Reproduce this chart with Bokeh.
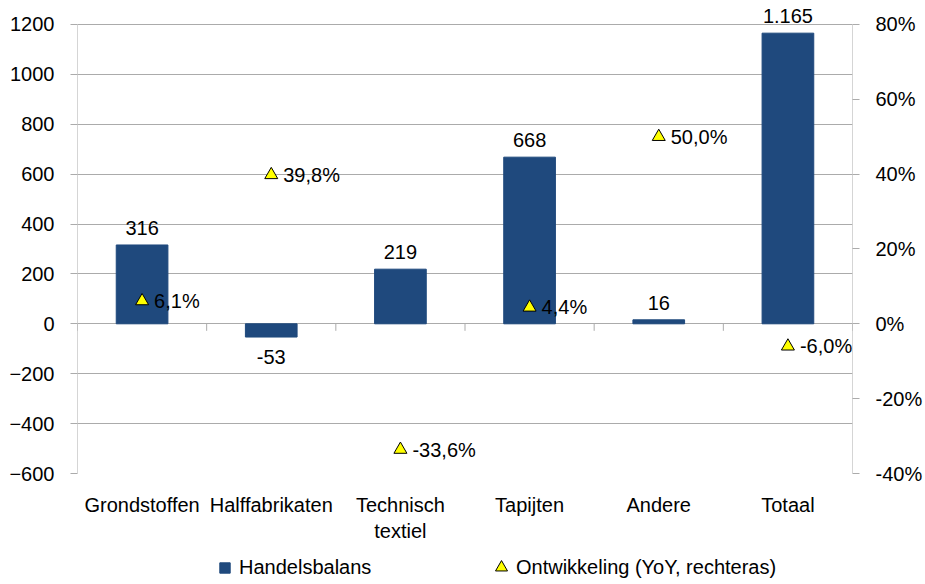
from bokeh.plotting import figure
from bokeh.layouts import column
from bokeh.models import (Range1d, LinearAxis, FixedTicker, PrintfTickFormatter,
                          ColumnDataSource, Legend, LegendItem)
from bokeh.core.properties import value
from bokeh.embed import file_html
from bokeh.resources import INLINE

# ---- data ----
categories = ["Grondstoffen", "Halffabrikaten", "Technisch\ntextiel", "Tapijten", "Andere", "Totaal"]
handelsbalans = [316, -53, 219, 668, 16, 1165]
ontwikkeling = [6.1, 39.8, -33.6, 4.4, 50.0, -6.0]   # percent, right axis
left_ticks = [-600, -400, -200, 0, 200, 400, 600, 800, 1000, 1200]
right_ticks = [-40, -20, 0, 20, 40, 60, 80]
series_names = ["Handelsbalans", "Ontwikkeling (YoY, rechteras)"]

FONT = "Liberation Sans"
BAR = "#1F497D"
TRI = "#FFFF00"
GRID = "#ABABAB"

xs = list(range(1, len(categories) + 1))
x_lo, x_hi = 0.5, len(categories) + 0.5

# a little head-room above the top tick so the "1.165" label is not clipped
l_span = left_ticks[-1] - left_ticks[0]
r_span = right_ticks[-1] - right_ticks[0]
head = 0.0533
p = figure(width=925, height=550, output_backend="svg", toolbar_location=None,
           x_range=Range1d(x_lo, x_hi),
           y_range=Range1d(left_ticks[0], left_ticks[-1] + head * l_span),
           min_border_left=77, min_border_right=73, min_border_top=0, min_border_bottom=77)
p.outline_line_color = None
p.background_fill_color = "white"
p.border_fill_color = "white"
p.extra_y_ranges = {"pct": Range1d(right_ticks[0], right_ticks[-1] + head * r_span)}

# bars
src = ColumnDataSource(dict(x=xs, top=handelsbalans))
bars = p.vbar(x="x", top="top", bottom=0, width=0.4, source=src,
              fill_color=BAR, line_color=BAR)

# axis lines (only between the lowest and highest tick) and boundary ticks on zero line
p.segment(x0=[x_lo, x_hi], x1=[x_lo, x_hi], y0=[left_ticks[0]] * 2, y1=[left_ticks[-1]] * 2,
          line_color=GRID, line_width=1)
bounds = [x - 0.5 for x in xs] + [xs[-1] + 0.5]
tick_len = l_span * 7 / 449
p.segment(x0=bounds, x1=bounds, y0=[0] * len(bounds), y1=[-tick_len] * len(bounds),
          line_color=GRID, line_width=1)

# bar labels
def fmt_int(v):
    return f"{v:,}".replace(",", ".")

pos = [(x, v) for x, v in zip(xs, handelsbalans) if v >= 0]
neg = [(x, v) for x, v in zip(xs, handelsbalans) if v < 0]
p.text(x=[a for a, _ in pos], y=[b for _, b in pos], text=[fmt_int(b) for _, b in pos],
       text_align="center", text_baseline="bottom", y_offset=-10,
       text_font=value(FONT), text_font_size="20px", text_color="black")
p.text(x=[a for a, _ in neg], y=[b for _, b in neg], text=[fmt_int(b) for _, b in neg],
       text_align="center", text_baseline="top", y_offset=13,
       text_font=value(FONT), text_font_size="20px", text_color="black")

# triangles (right axis)
tsrc = ColumnDataSource(dict(x=xs, y=ontwikkeling,
                             lbl=[f"{v:.1f}".replace(".", ",") + "%" for v in ontwikkeling]))
tri = p.scatter(x="x", y="y", source=tsrc, marker="triangle", size=13,
                fill_color=TRI, line_color="black", line_width=1, y_range_name="pct")
p.text(x="x", y="y", text="lbl", source=tsrc, y_range_name="pct",
       text_align="left", text_baseline="middle", x_offset=12,
       text_font=value(FONT), text_font_size="20px", text_color="black")

# axes
p.yaxis.ticker = FixedTicker(ticks=left_ticks)
p.ygrid.ticker = FixedTicker(ticks=left_ticks)
p.ygrid.grid_line_color = GRID
p.xgrid.grid_line_color = None
ya = p.yaxis[0]
ya.axis_line_color = None
ya.major_tick_line_color = GRID
ya.major_tick_out = 7
ya.major_tick_in = 0
ya.minor_tick_line_color = None
ya.major_label_standoff = 16
ya.major_label_text_font = FONT
ya.major_label_text_font_size = "20px"
ya.major_label_text_color = "black"

ra = LinearAxis(y_range_name="pct", ticker=FixedTicker(ticks=right_ticks),
                formatter=PrintfTickFormatter(format="%d%%"))
ra.axis_line_color = None
ra.major_tick_line_color = GRID
ra.major_tick_out = 7
ra.major_tick_in = 0
ra.minor_tick_line_color = None
ra.major_label_standoff = 16
ra.major_label_text_font = FONT
ra.major_label_text_font_size = "20px"
ra.major_label_text_color = "black"
p.add_layout(ra, "right")

xa = p.xaxis[0]
xa.ticker = FixedTicker(ticks=xs)
xa.major_label_overrides = {x: c for x, c in zip(xs, categories)}
xa.axis_line_color = None
xa.major_tick_line_color = None
xa.minor_tick_line_color = None
xa.major_label_standoff = 14
xa.major_label_text_font = FONT
xa.major_label_text_font_size = "20px"
xa.major_label_text_color = "black"

# ---- legend strip below the chart (series re-drawn out of view, only legend shows) ----
p2 = figure(width=925, height=34, output_backend="svg", toolbar_location=None,
            x_range=Range1d(x_lo, x_hi), y_range=Range1d(1e6, 1e6 + 1), min_border=0,
            x_axis_location=None, y_axis_location=None)
p2.outline_line_color = None
p2.xgrid.grid_line_color = None
p2.ygrid.grid_line_color = None
leg_bar = p2.vbar(x="x", top="top", bottom=0, width=0.4, source=src,
                  fill_color=BAR, line_color=BAR)
leg_tri = p2.scatter(x="x", y="y", source=tsrc, marker="triangle", fill_color=TRI,
                     line_color="black", line_width=1)

common = dict(orientation="horizontal", padding=0, margin=0, border_line_color=None,
              background_fill_alpha=0, label_text_font=FONT, label_text_font_size="20px",
              label_text_color="black")
legA = Legend(items=[LegendItem(label=series_names[0], renderers=[leg_bar], index=0)],
              location=(141, 5), glyph_width=13, glyph_height=13, label_standoff=8, **common)
legB = Legend(items=[LegendItem(label=series_names[1], renderers=[leg_tri], index=0)],
              location=(409, 2), glyph_width=30, glyph_height=30, label_standoff=-3, **common)
p2.add_layout(legA)
p2.add_layout(legB)

open("out.html", "w").write(file_html(column(p, p2), INLINE))
